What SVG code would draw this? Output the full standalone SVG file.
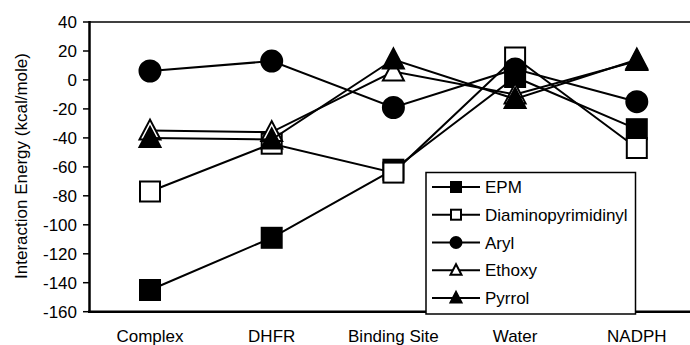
<svg xmlns="http://www.w3.org/2000/svg" width="690" height="345" viewBox="0 0 690 345">
<style>
text{font-family:"Liberation Sans",Arial,sans-serif;font-size:17px;fill:#000}
.ytick{text-anchor:end}
.xcat{text-anchor:middle}
.ser{fill:none;stroke:#000;stroke-width:2}
.f{fill:#000;stroke:#000;stroke-width:2}
.o{fill:#fff;stroke:#000;stroke-width:2}
.ax{stroke:#000;fill:none}
</style>
<defs>
<rect id="sq" x="-10" y="-10" width="20" height="20"/>
<circle id="ci" r="10.5"/>
<polygon id="tr" points="0,-11 -10.5,9 10.5,9"/>
<rect id="lsq" x="-5" y="-5" width="10" height="10"/>
<circle id="lci" r="5.5"/>
<polygon id="ltr" points="0,-6 -5.5,4.5 5.5,4.5"/>
</defs>
<rect width="690" height="345" fill="#fff"/>
<g id="axes">
<line class="ax" x1="89" y1="22" x2="690" y2="22" stroke-width="1.5"/>
<line class="ax" x1="89.5" y1="21" x2="89.5" y2="313" stroke-width="2.5"/>
<line class="ax" x1="88" y1="311.7" x2="690" y2="311.7" stroke-width="2.5"/>
<g stroke="#000" stroke-width="1.5">
<line x1="83" y1="22" x2="89" y2="22"/><line x1="83" y1="51" x2="89" y2="51"/><line x1="83" y1="79.9" x2="89" y2="79.9"/><line x1="83" y1="108.9" x2="89" y2="108.9"/><line x1="83" y1="137.9" x2="89" y2="137.9"/><line x1="83" y1="166.9" x2="89" y2="166.9"/><line x1="83" y1="195.8" x2="89" y2="195.8"/><line x1="83" y1="224.8" x2="89" y2="224.8"/><line x1="83" y1="253.8" x2="89" y2="253.8"/><line x1="83" y1="282.7" x2="89" y2="282.7"/><line x1="83" y1="311.7" x2="89" y2="311.7"/>
</g>
<text class="ytick" x="77" y="28">40</text>
<text class="ytick" x="77" y="57">20</text>
<text class="ytick" x="77" y="86">0</text>
<text class="ytick" x="77" y="115">-20</text>
<text class="ytick" x="77" y="144">-40</text>
<text class="ytick" x="77" y="173">-60</text>
<text class="ytick" x="77" y="202">-80</text>
<text class="ytick" x="77" y="231">-100</text>
<text class="ytick" x="77" y="260">-120</text>
<text class="ytick" x="77" y="289">-140</text>
<text class="ytick" x="77" y="318">-160</text>
<text x="0" y="0" text-anchor="middle" transform="translate(27,166) rotate(-90)">Interaction Energy (kcal/mole)</text>
<text class="xcat" x="150" y="342">Complex</text>
<text class="xcat" x="271.7" y="342">DHFR</text>
<text class="xcat" x="393.4" y="342">Binding Site</text>
<text class="xcat" x="515.1" y="342">Water</text>
<text class="xcat" x="636.8" y="342">NADPH</text>
</g>
<g id="connectors">
<g id="series-EPM">
<polyline class="ser" points="150,290 271.7,237.8 393.4,169.7 515.1,77 636.8,129.2"/>
<use href="#sq" class="f" x="150" y="290"/><use href="#sq" class="f" x="271.7" y="237.8"/><use href="#sq" class="f" x="393.4" y="169.7"/><use href="#sq" class="f" x="515.1" y="77"/><use href="#sq" class="f" x="636.8" y="129.2"/>
</g>
<g id="series-Diaminopyrimidinyl">
<polyline class="ser" points="150,191.5 271.7,143.7 393.4,172.6 515.1,57.5 636.8,148"/>
<use href="#sq" class="o" x="150" y="191.5"/><use href="#sq" class="o" x="271.7" y="143.7"/><use href="#sq" class="o" x="393.4" y="172.6"/><use href="#sq" class="o" x="515.1" y="57.5"/><use href="#sq" class="o" x="636.8" y="148"/>
</g>
<g id="series-Aryl">
<polyline class="ser" points="150,71 271.7,61.1 393.4,107.5 515.1,69 636.8,101.7"/>
<use href="#ci" class="f" x="150" y="71"/><use href="#ci" class="f" x="271.7" y="61.1"/><use href="#ci" class="f" x="393.4" y="107.5"/><use href="#ci" class="f" x="515.1" y="69"/><use href="#ci" class="f" x="636.8" y="101.7"/>
</g>
<g id="series-Ethoxy">
<polyline class="ser" points="150,130.6 271.7,132.1 393.4,71.5 515.1,94.4 636.8,61"/>
<use href="#tr" class="o" x="150" y="130.6"/><use href="#tr" class="o" x="271.7" y="132.1"/><use href="#tr" class="o" x="393.4" y="71.5"/><use href="#tr" class="o" x="515.1" y="94.4"/><use href="#tr" class="o" x="636.8" y="61"/>
</g>
<g id="series-Pyrrol">
<polyline class="ser" points="150,137.9 271.7,139.5 393.4,59.5 515.1,99 636.8,59.7"/>
<use href="#tr" class="f" x="150" y="137.9"/><use href="#tr" class="f" x="271.7" y="139.5"/><use href="#tr" class="f" x="393.4" y="59.5"/><use href="#tr" class="f" x="515.1" y="99"/><use href="#tr" class="f" x="636.8" y="59.7"/>
</g>
</g>
<g id="legend">
<rect x="426" y="172.5" width="209.5" height="141.5" fill="#fff" stroke="#000" stroke-width="1.5"/>
<g id="leg-EPM"><line x1="432" y1="187" x2="480" y2="187" stroke="#000" stroke-width="2"/><use href="#lsq" class="f" x="456" y="187"/><text x="485" y="193">EPM</text></g>
<g id="leg-Diaminopyrimidinyl"><line x1="432" y1="214.7" x2="480" y2="214.7" stroke="#000" stroke-width="2"/><use href="#lsq" class="o" x="456" y="214.7"/><text x="485" y="220.7">Diaminopyrimidinyl</text></g>
<g id="leg-Aryl"><line x1="432" y1="242.5" x2="480" y2="242.5" stroke="#000" stroke-width="2"/><use href="#lci" class="f" x="456" y="242.5"/><text x="485" y="248.5">Aryl</text></g>
<g id="leg-Ethoxy"><line x1="432" y1="270.2" x2="480" y2="270.2" stroke="#000" stroke-width="2"/><use href="#ltr" class="o" x="456" y="270.2"/><text x="485" y="276.2">Ethoxy</text></g>
<g id="leg-Pyrrol"><line x1="432" y1="298" x2="480" y2="298" stroke="#000" stroke-width="2"/><use href="#ltr" class="f" x="456" y="298"/><text x="485" y="304">Pyrrol</text></g>
</g>
</svg>
